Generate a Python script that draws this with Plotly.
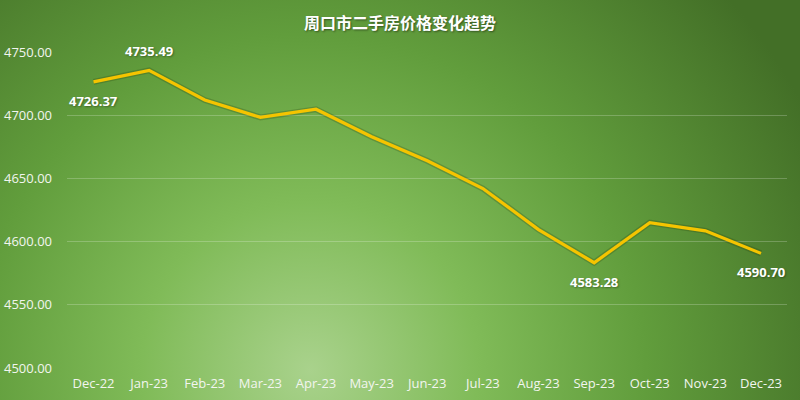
import base64
import plotly.graph_objects as go

months = ["Dec-22", "Jan-23", "Feb-23", "Mar-23", "Apr-23", "May-23", "Jun-23",
          "Jul-23", "Aug-23", "Sep-23", "Oct-23", "Nov-23", "Dec-23"]
prices = [4726.37, 4735.49, 4712.0, 4698.3, 4704.7, 4683.0, 4664.0,
          4642.0, 4609.5, 4583.28, 4615.0, 4608.5, 4590.70]
labeled = {0: -1, 1: 1, 9: -1, 12: -1}  # index -> above(1)/below(-1)
y_ticks = [4500, 4550, 4600, 4650, 4700, 4750]

svg = """<svg xmlns='http://www.w3.org/2000/svg' width='800' height='400'>
<defs><radialGradient id='g' cx='310' cy='370' r='560' gradientUnits='userSpaceOnUse'>
<stop offset='0' stop-color='#a9d28c'/>
<stop offset='0.3' stop-color='#80bb58'/>
<stop offset='0.6' stop-color='#619d3c'/>
<stop offset='1' stop-color='#436f27'/>
</radialGradient></defs>
<rect width='800' height='400' fill='url(#g)'/></svg>"""
bg_uri = "data:image/svg+xml;base64," + base64.b64encode(svg.encode()).decode()

fig = go.Figure()
fig.add_trace(go.Scatter(x=months, y=prices, mode="lines",
                         line=dict(color="rgba(30,50,0,0.22)", width=6),
                         hoverinfo="skip", showlegend=False))
fig.add_trace(go.Scatter(x=months, y=prices, mode="lines",
                         line=dict(color="#f5c400", width=3.2),
                         showlegend=False))

for i, d in labeled.items():
    fig.add_annotation(x=months[i], y=prices[i], text=f"{prices[i]:.2f}",
                       showarrow=False, yshift=19 * d,
                       font=dict(family="Open Sans", size=13, color="white",
                                 weight="bold", shadow="1px 1px 2px rgba(0,0,0,0.35)"))

fig.update_layout(
    width=800, height=400,
    margin=dict(l=0, r=0, t=0, b=0),
    paper_bgcolor="#5a9636",
    plot_bgcolor="rgba(0,0,0,0)",
    images=[dict(source=bg_uri, xref="paper", yref="paper", x=0, y=1,
                 sizex=1, sizey=1, sizing="stretch", layer="below")],
    title=dict(text="周口市二手房价格变化趋势", x=0.5, xanchor="center",
               y=1 - 23 / 400, yanchor="middle",
               font=dict(family="Noto Sans CJK SC", size=16, color="white",
                         weight="bold", shadow="1px 1px 2px rgba(0,0,0,0.45)")),
    xaxis=dict(domain=[67 / 800, 787 / 800], showgrid=False, showline=False,
               zeroline=False, ticks="", automargin=False,
               tickfont=dict(family="Open Sans", size=13, color="#f2f5ef"),
               ticklabelstandoff=6),
    yaxis=dict(domain=[32 / 400, 348 / 400], range=[4500, 4750],
               tickvals=y_ticks, tickformat=".2f", automargin=False,
               showgrid=True, gridcolor="rgba(255,255,255,0.22)", gridwidth=1,
               zeroline=False, showline=False, ticks="",
               tickfont=dict(family="Open Sans", size=13, color="#f2f5ef"),
               ticklabelstandoff=14),
    showlegend=False,
)

fig.write_html("out.html", config={"displayModeBar": False},
               post_script="document.body.style.margin='0';document.body.style.overflow='hidden';")
